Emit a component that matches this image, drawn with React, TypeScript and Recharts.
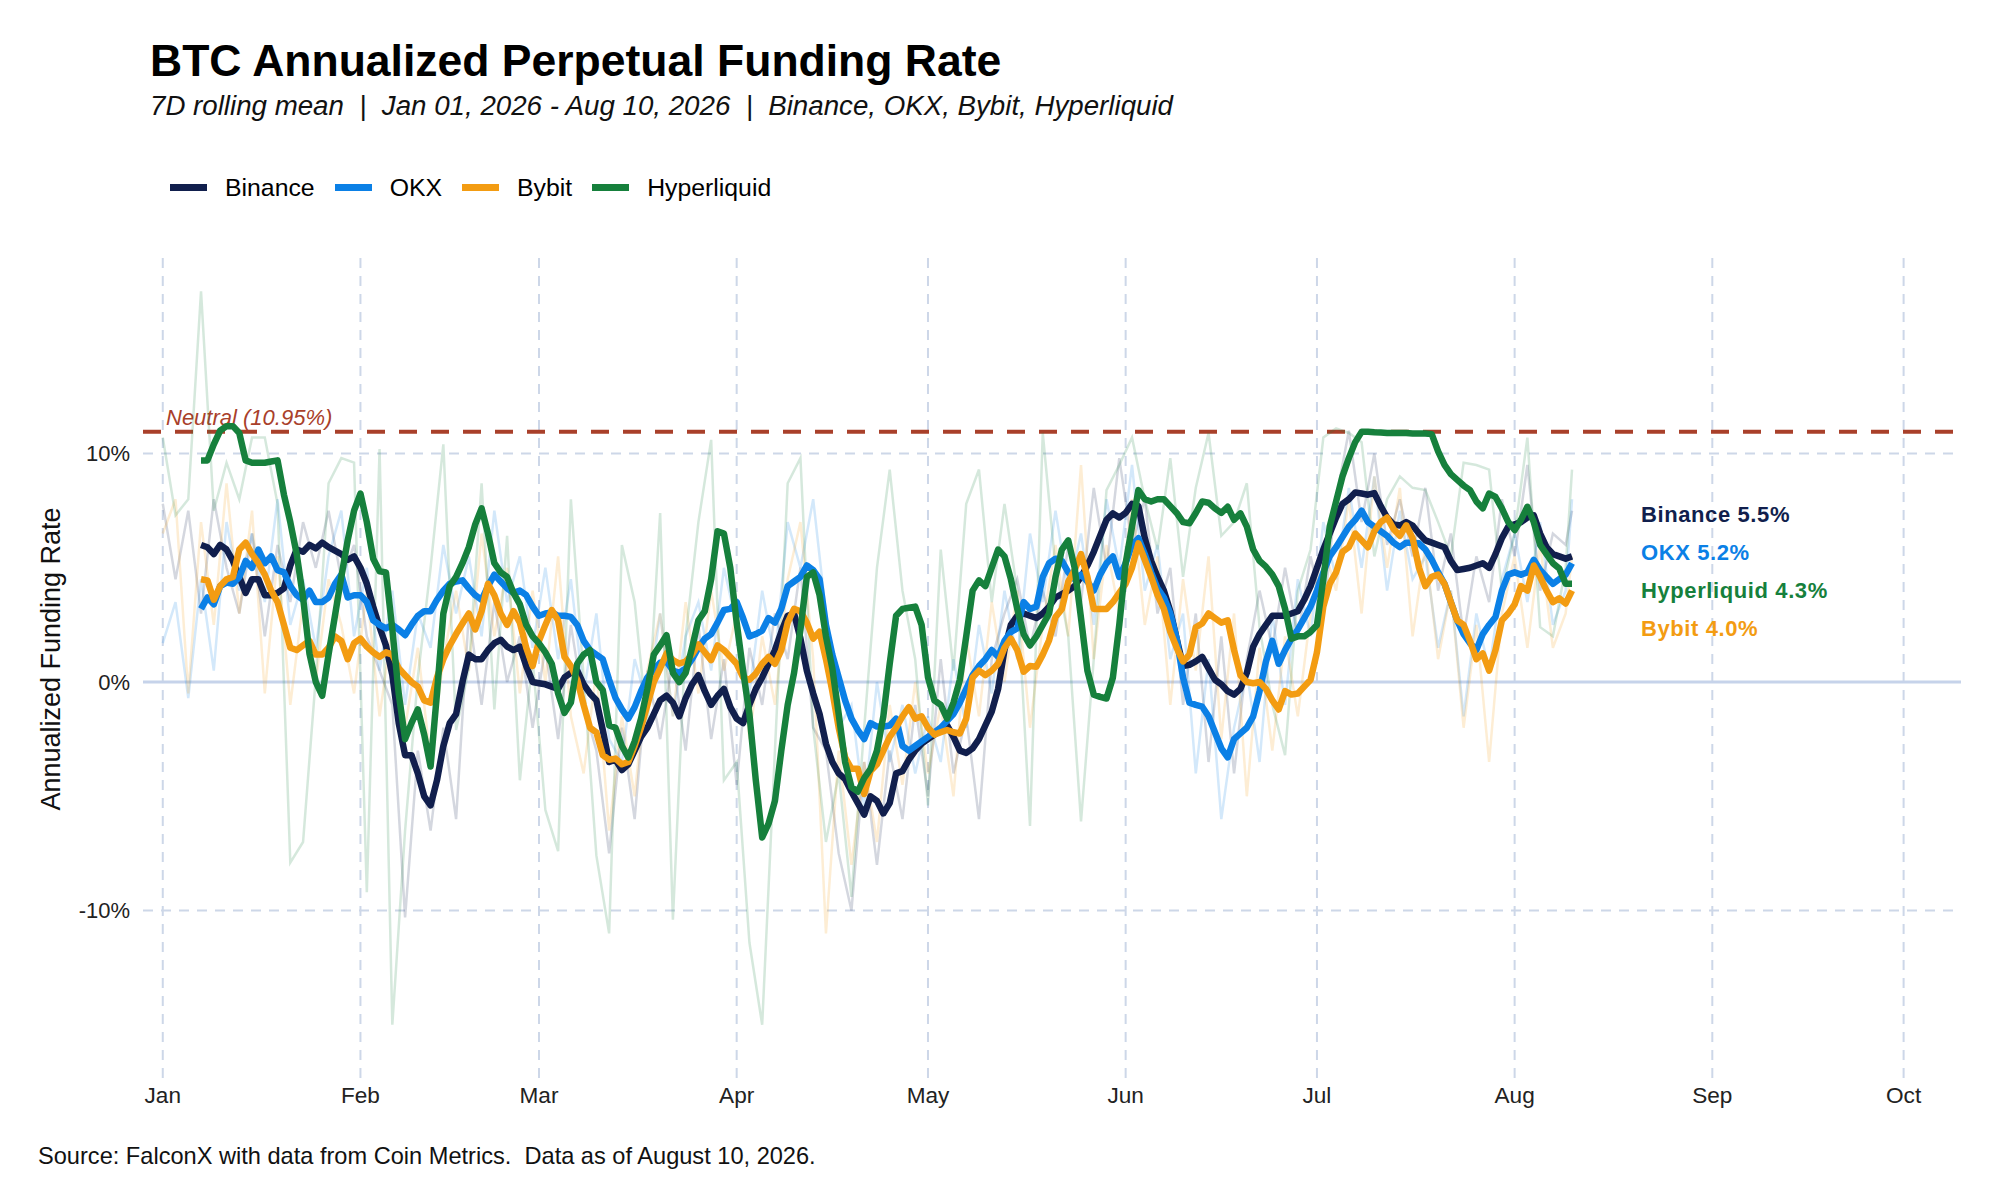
import { LineChart, Line, XAxis, YAxis, ReferenceLine } from 'recharts'

const FONT = '"Liberation Sans", Arial, Helvetica, sans-serif'

// day index 0 = Jan 01, 2026
const MONTH_TICKS = [0, 31, 59, 90, 120, 151, 181, 212, 243, 273]
const MONTH_LABELS = ['Jan', 'Feb', 'Mar', 'Apr', 'May', 'Jun', 'Jul', 'Aug', 'Sep', 'Oct']
const Y_TICKS = [-10, 0, 10]
const GRID_Y = [-10, 10]
const NEUTRAL = 10.95
const LAST_DAY = 221
const SMOOTH_START = 6

// raw daily values, sampled every other day (0, 2, ... 220) plus Aug 10
const RAW_DAYS = Array.from({ length: 111 }, (_, i) => i * 2).concat(LAST_DAY)

const BINANCE_RAW = [
  7.8, 4.5, 7.5, 3.0, 8.0, 5.0, 3.0, 6.5, 2.0, 6.0,
  3.5, 7.0, 5.0, 7.5, 4.5, 6.0, 2.0, 0.5, -1.0, -10.3,
  -3.0, -6.5, -2.0, -6.0, 3.0, -1.0, 3.5, 0.0, 2.0, -2.0,
  1.5, -2.5, 2.5, -1.0, -3.0, -7.5, -2.0, -6.0, 0.5, -2.5,
  1.0, -3.0, 2.5, -2.5, 1.0, -4.5, 1.5, -1.0, 3.0, 1.0,
  5.0, -2.0, -3.0, -7.5, -10.0, -3.5, -8.0, -3.0, -6.0, -1.0,
  -5.0, 1.0, -4.0, -1.5, -6.0, 1.0, 3.0, 4.5, 1.5, 4.0,
  2.0, 6.0, 3.5, 8.5, 5.0, 9.8, 6.0, 8.0, 3.0, 5.0,
  -1.0, 3.0, -3.5, 2.0, -4.0, 1.0, 4.0, 1.5, 5.0, 2.0,
  5.5, 3.0, 8.0, 11.0, 7.0, 10.0, 6.0, 8.0, 5.5, 8.5,
  4.0, 6.5, 2.0, 5.5, 3.5, 8.0, 5.5, 9.5, 4.0, 6.5,
  6.0, 7.5,
]
const OKX_RAW = [
  1.7, 3.5, -0.7, 4.5, 0.5, 7.0, 4.0, 6.5, 3.5, 8.0,
  2.5, 4.5, 1.5, 5.5, 7.5, 2.0, 5.0, 0.5, 4.0, -1.0,
  3.0, 1.5, 6.0, 3.0, 5.5, 2.0, 7.5, 3.5, 5.5, 1.5,
  5.0, 1.0, 4.5, -0.5, 3.0, -2.5, -3.5, 1.0, -1.0, 3.0,
  -1.5, 2.0, 3.5, 0.5, 5.0, 2.5, -0.5, 4.0, 1.0, 7.0,
  5.0, 8.0, 3.0, -2.0, -1.0, -5.5, 0.0, -3.5, -1.0, -4.0,
  -1.5, -3.5, 1.0, -2.0, 2.5, -0.5, 4.0, 1.0, 6.5, 3.5,
  7.5, 4.0, 6.5, 2.5, 8.0, 5.0, 9.5, 4.0, 6.0, 1.0,
  3.0, -4.0, 1.0, -6.0, -2.0, 0.5, -3.5, 3.0, -1.0, 4.5,
  2.0, 7.0, 4.5, 8.5, 5.0, 9.0, 4.0, 7.5, 4.5, 5.5,
  1.5, 4.0, -1.5, 3.0, 0.5, 4.5, 6.5, 3.5, 7.0, 2.5,
  4.0, 8.0,
]
const BYBIT_RAW = [
  6.5, 8.0, -0.5, 7.0, 2.5, 8.7, 3.0, 7.5, -0.5, 5.5,
  -1.0, 3.5, 0.0, 4.5, 2.5, -0.5, 4.0, -1.5, 2.5, -2.0,
  1.5, -3.5, 1.0, 4.0, 0.5, 6.5, 2.0, 5.0, -0.5, 4.0,
  0.0, 5.5, -1.5, -4.0, 0.5, -6.5, -1.5, -5.0, 0.5, 3.0,
  -1.5, 3.5, -0.5, 4.0, 0.5, 3.0, -2.5, 2.0, -1.0, 4.5,
  7.0, 1.0, -11.0, -3.0, -8.0, -3.5, -7.0, -1.0, -4.5, 0.0,
  -4.0, -1.0, -5.0, 2.0, -1.5, 3.5, 0.0, 4.0, -2.0, 2.5,
  6.0, 2.0, 9.5, 1.0, 6.0, 3.0, 8.0, 2.5, 5.5, -1.0,
  4.5, 0.5, 5.5, -2.5, 3.0, -5.0, 1.5, -3.0, 2.0, -1.5,
  3.0, 6.0, 4.0, 8.0, 3.0, 9.0, 5.0, 8.5, 2.0, 6.0,
  1.0, 4.0, -2.0, 2.5, -3.5, 3.0, 5.5, 1.5, 6.0, 1.5,
  3.0, 5.5,
]
const HYPER_RAW = [
  10.7, 7.3, 8.0, 17.1, 7.5, 9.6, 8.0, 10.7, 10.7, 7.8,
  -7.9, -7.0, 0.2, 8.7, 9.8, 9.6, -9.2, 10.2, -15.0, -6.5,
  0.2, 5.0, 10.4, -2.1, 0.6, 8.7, -1.2, 6.4, -4.3, 1.0,
  -5.6, -7.4, 8.0, 0.2, -7.6, -11.0, 6.0, 3.5, -2.0, 7.4,
  -10.4, 2.0, 7.0, 10.6, -4.3, -3.5, -11.4, -15.0, -3.0, 8.7,
  9.8, -2.0, -7.0, -4.0, -9.4, -2.0, 5.0, 9.3, 4.0, 1.0,
  -5.4, 5.8, 0.5, 7.8, 9.3, 3.5, 7.8, 4.0, -6.3, 10.9,
  5.0, 2.0, -6.1, 1.0, 8.4, 9.5, 10.7, 8.0, 5.8, 9.8,
  4.6, 8.5, 10.9, 6.4, 7.0, 8.7, 2.4, -1.0, -3.2, 4.0,
  5.8, 10.7, 11.1, 10.9, 10.5, 5.5, 8.0, 9.0, 8.5, 8.4,
  7.0, 5.5, 9.6, 9.5, 9.3, 4.0, 6.5, 10.7, 2.4, 2.0,
  5.0, 9.3,
]

// 7D rolling mean, daily from Jan 07 (day 6) to Aug 10 (day 221)
const BINANCE_7D = [
  6.0, 5.9, 5.6, 6.0, 5.8, 5.3, 4.6, 3.9, 4.5, 4.5,
  3.8, 3.8, 3.9, 4.1, 5.1, 5.8, 5.7, 6.0, 5.85, 6.1,
  5.9, 5.75, 5.6, 5.35, 5.5, 5.0, 4.3, 3.3, 2.4, 1.6,
  0.3, -1.8, -3.2, -3.2, -4.0, -5.0, -5.4, -4.3, -2.8, -1.8,
  -1.4, 0.0, 1.2, 1.0, 1.0, 1.4, 1.7, 1.85, 1.55, 1.4,
  1.55, 0.7, 0.0, -0.05, -0.1, -0.2, -0.3, 0.2, 0.4, 0.5,
  -0.1, -0.5, -0.8, -2.1, -3.5, -3.4, -3.85, -3.6, -3.0, -2.4,
  -2.0, -1.4, -0.8, -0.6, -0.9, -1.5, -0.7, -0.1, 0.3, -0.4,
  -1.0, -0.6, -0.3, -1.1, -1.6, -1.8, -1.0, -0.3, 0.2, 0.8,
  1.4, 2.2, 2.9, 3.0, 1.9, 0.5, -0.5, -1.4, -2.7, -3.5,
  -4.0, -4.25, -4.8, -5.3, -5.8, -5.0, -5.2, -5.75, -5.3, -4.0,
  -3.9, -3.4, -3.0, -2.7, -2.5, -2.3, -2.1, -1.9, -2.4, -3.0,
  -3.1, -2.9, -2.5, -1.9, -1.3, -0.3, 1.4, 2.5, 2.9, 3.0,
  2.9, 2.8, 3.0, 3.3, 3.7, 3.85, 4.0, 4.2, 4.6, 5.1,
  5.7, 6.4, 7.1, 7.38, 7.2, 7.4, 7.8, 7.7, 6.3, 5.3,
  4.6, 4.0, 3.1, 1.9, 0.7, 0.75, 0.9, 1.1, 0.6, 0.1,
  -0.1, -0.4, -0.55, -0.3, 0.4, 1.55, 2.1, 2.5, 2.9, 2.9,
  2.9, 3.0, 3.1, 3.6, 4.2, 5.0, 5.8, 6.5, 7.2, 7.8,
  8.0, 8.3, 8.25, 8.2, 8.27, 7.7, 7.2, 6.9, 6.85, 7.0,
  6.85, 6.5, 6.2, 6.1, 6.0, 5.9, 5.3, 4.9, 4.95, 5.0,
  5.1, 5.2, 5.0, 5.6, 6.3, 6.8, 6.9, 7.0, 7.2, 7.3,
  6.5, 5.9, 5.6, 5.5, 5.4, 5.5,
]
const OKX_7D = [
  3.2, 3.7, 3.4, 4.2, 4.35, 4.3, 4.6, 5.3, 5.0, 5.8,
  5.2, 5.5, 4.9, 4.8, 4.2, 3.8, 3.6, 4.0, 3.5, 3.5,
  3.7, 4.3, 4.7, 3.7, 3.8, 3.8, 3.5, 2.7, 2.5, 2.35,
  2.5, 2.3, 2.05, 2.5, 2.9, 3.1, 3.1, 3.6, 4.0, 4.3,
  4.4, 4.45, 4.1, 3.8, 3.6, 4.2, 4.7, 4.4, 4.1, 3.9,
  4.0, 3.8, 3.3, 2.9, 3.0, 3.05, 2.9, 2.9, 2.85, 2.5,
  1.8, 1.4, 1.2, 1.0, 0.1, -0.7, -1.2, -1.6, -1.1, -0.4,
  0.2, 0.55, 0.85, 0.9, 0.5, 0.4, 0.6, 1.0, 1.5, 1.9,
  2.1, 2.6, 3.15, 3.2, 3.5, 2.8, 2.0, 2.1, 2.25, 2.8,
  2.6, 3.2, 4.2, 4.4, 4.6, 5.1, 4.9, 4.5, 2.5, 1.2,
  0.2, -0.8, -1.6, -2.1, -2.5, -1.8, -1.95, -1.95, -1.9, -1.6,
  -2.8, -3.0, -2.8, -2.6, -2.4, -2.2, -2.0, -1.7, -1.4, -0.9,
  -0.3, 0.3, 0.7, 1.0, 1.4, 1.1, 1.8, 2.2, 2.35, 3.5,
  3.2, 3.3, 4.6, 5.2, 5.4, 5.3, 4.8, 4.5, 4.7, 4.4,
  4.0, 4.7, 5.2, 5.5, 4.6, 5.2, 6.0, 6.3, 5.6, 4.8,
  4.1, 3.7, 3.0, 1.9, 0.2, -0.9, -1.0, -1.08, -1.5, -2.2,
  -2.9, -3.3, -2.5, -2.25, -2.0, -1.5, -0.4, 0.9, 1.8, 0.8,
  1.4, 1.9, 2.3, 2.8, 3.3, 4.0, 4.8, 5.5, 5.9, 6.35,
  6.8, 7.1, 7.5, 7.0, 6.8, 6.6, 6.4, 6.1, 5.9, 6.1,
  6.1, 6.07, 5.8, 5.35, 4.8, 4.3, 3.5, 2.7, 2.1, 1.7,
  1.4, 2.1, 2.5, 2.85, 4.0, 4.7, 4.8, 4.7, 4.8, 5.35,
  4.9, 4.6, 4.3, 4.5, 4.7, 5.2,
]
const BYBIT_7D = [
  4.5, 4.45, 3.6, 4.2, 4.5, 4.6, 5.8, 6.1, 5.6, 5.2,
  4.7, 4.0, 3.5, 2.5, 1.5, 1.4, 1.6, 1.8, 1.2, 1.2,
  1.5, 2.0, 1.8, 1.0, 1.7, 1.9, 1.55, 1.3, 1.1, 1.3,
  1.2, 0.6, 0.3, 0.0, -0.2, -0.8, -0.9, 0.2, 1.0, 1.6,
  2.1, 2.56, 3.0, 2.3, 3.1, 4.3, 3.8, 3.0, 2.5, 3.1,
  2.6, 1.5, 0.7, 1.8, 2.5, 3.15, 2.7, 1.1, 0.7, 0.1,
  -1.0, -2.0, -2.2, -3.2, -3.4, -3.35, -3.6, -3.5, -2.8, -2.0,
  -1.0, 0.0, 0.6, 1.25, 0.96, 0.81, 0.9, 1.2, 1.65, 1.3,
  0.96, 1.6, 1.4, 1.1, 0.8, 0.2, 0.1, 0.37, 0.8, 1.1,
  0.8, 1.4, 2.6, 3.2, 3.1, 2.6, 1.9, 2.2, 1.0, -0.4,
  -2.0, -3.3, -3.8, -3.8, -4.9, -3.9, -3.6, -3.0, -2.4, -2.0,
  -1.5, -1.1, -1.6, -1.5, -2.0, -2.3, -2.2, -2.1, -2.2, -2.25,
  -1.6, 0.2, 0.5, 0.3, 0.5, 0.8, 1.5, 1.9, 1.4, 0.45,
  0.7, 0.67, 1.2, 1.83, 2.85, 3.2, 4.4, 4.9, 5.6, 4.6,
  3.2, 3.2, 3.2, 3.5, 3.9, 4.3, 5.0, 6.07, 5.35, 4.6,
  3.8, 3.2, 2.2, 1.5, 0.9, 1.2, 2.4, 2.56, 3.0, 2.8,
  2.6, 2.7, 1.4, 0.3, 0.0, -0.05, 0.0, -0.3, -0.8, -1.2,
  -0.4, -0.55, -0.5, -0.2, 0.1, 1.3, 3.3, 4.3, 4.8, 5.7,
  5.9, 6.5, 6.2, 5.9, 6.6, 7.0, 7.2, 6.7, 6.4, 6.86,
  6.3, 5.0, 4.2, 4.6, 4.7, 4.3, 3.5, 2.7, 2.5, 1.8,
  1.0, 1.25, 0.5, 1.4, 2.7, 3.0, 3.4, 4.2, 4.0, 5.1,
  4.6, 4.0, 3.5, 3.66, 3.44, 4.0,
]
const HYPER_7D = [
  9.7, 9.7, 10.4, 11.0, 11.2, 11.2, 10.9, 9.7, 9.6, 9.6,
  9.6, 9.65, 9.7, 8.2, 7.0, 5.6, 3.7, 1.25, 0.0, -0.6,
  1.2, 2.9, 4.6, 6.2, 7.5, 8.25, 7.0, 5.4, 4.85, 4.8,
  2.3, -0.5, -2.5, -1.8, -1.2, -2.3, -3.7, -0.5, 3.0, 4.2,
  4.6, 5.2, 5.9, 6.9, 7.6, 6.5, 5.2, 4.8, 4.6, 3.9,
  3.4, 2.5, 2.0, 1.69, 1.3, 0.8, -0.5, -1.35, -0.9, 0.8,
  1.2, 1.4, 0.0, -0.35, -1.9, -2.0, -2.8, -3.3, -2.6, -1.6,
  -0.3, 1.2, 1.6, 2.05, 0.4, 0.0, 0.4, 1.5, 2.7, 3.1,
  4.5, 6.6, 6.5, 5.0, 2.6, 0.5, -1.4, -4.3, -6.8, -6.2,
  -5.2, -3.0, -1.0, 0.4, 2.3, 4.6, 4.8, 3.8, 2.0, 0.6,
  -1.4, -3.5, -4.6, -4.8, -4.2, -3.8, -3.0, -1.5, 0.8, 2.9,
  3.2, 3.25, 3.3, 2.5, 0.2, -0.8, -1.0, -1.6, -0.9, 0.1,
  2.0, 4.0, 4.45, 4.2, 5.0, 5.8, 5.5, 4.5, 3.2, 2.1,
  1.6, 2.0, 2.5, 3.0, 4.6, 5.8, 6.2, 5.0, 2.8, 0.5,
  -0.55, -0.65, -0.72, 0.2, 2.5, 5.2, 6.8, 8.4, 8.0, 7.9,
  8.0, 8.0, 7.7, 7.4, 7.0, 6.95, 7.4, 7.9, 7.85, 7.6,
  7.4, 7.67, 7.1, 7.38, 6.8, 5.8, 5.3, 5.05, 4.7, 4.2,
  3.2, 1.9, 2.0, 2.0, 2.2, 2.5, 4.5, 6.8, 7.9, 9.0,
  9.8, 10.5, 10.95, 10.95, 10.93, 10.92, 10.9, 10.9, 10.9, 10.9,
  10.88, 10.88, 10.88, 10.85, 10.1, 9.5, 9.1, 8.85, 8.6, 8.4,
  7.9, 7.6, 8.25, 8.1, 7.6, 7.0, 6.65, 7.1, 7.67, 7.0,
  6.0, 5.6, 5.2, 4.97, 4.3, 4.3,
]

const SERIES = [
  { key: 'binance', name: 'Binance', color: '#111f4d', raw: BINANCE_RAW, smooth: BINANCE_7D },
  { key: 'okx', name: 'OKX', color: '#0b80e6', raw: OKX_RAW, smooth: OKX_7D },
  { key: 'bybit', name: 'Bybit', color: '#f39c12', raw: BYBIT_RAW, smooth: BYBIT_7D },
  { key: 'hyper', name: 'Hyperliquid', color: '#16803c', raw: HYPER_RAW, smooth: HYPER_7D },
]

const rows = Array.from({ length: LAST_DAY + 1 }, (_, day) => {
  const r: Record<string, number | null> = { day }
  const ri = RAW_DAYS.indexOf(day)
  SERIES.forEach((s) => {
    r[s.key] = day >= SMOOTH_START ? s.smooth[day - SMOOTH_START] : null
    r[s.key + 'Raw'] = ri >= 0 ? s.raw[ri] : null
  })
  return r
})

// end-of-series labels, ordered by latest value
const END_SLOTS = [523, 561, 599, 637]
const endLabels = SERIES.map((s) => ({ ...s, last: s.smooth[s.smooth.length - 1] }))
  .sort((a, b) => b.last - a.last)

const GRID = '#cdd7e8'
const tick = { fontSize: 22, fill: '#222', fontFamily: FONT }

function NeutralLabel(props: any) {
  const vb = props.viewBox || {}
  return (
    <text x={vb.x + 23} y={vb.y - 7} fill="#a9402a" fontSize={22} fontStyle="italic" fontFamily={FONT}>
      Neutral (10.95%)
    </text>
  )
}

export default function App() {
  return (
    <div style={{ position: 'absolute', left: 0, top: 0, width: 2000, height: 1200, background: '#fff', fontFamily: FONT, color: '#000' }}>
      <div style={{ position: 'absolute', left: 150, top: 38.5, fontSize: 44.5, lineHeight: 1, fontWeight: 700, whiteSpace: 'nowrap' }}>
        BTC Annualized Perpetual Funding Rate
      </div>
      <div style={{ position: 'absolute', left: 150, top: 91.5, fontSize: 27.7, lineHeight: 1, fontStyle: 'italic', whiteSpace: 'pre', color: '#111' }}>
        {'7D rolling mean  |  Jan 01, 2026 - Aug 10, 2026  |  Binance, OKX, Bybit, Hyperliquid'}
      </div>

      <div style={{ position: 'absolute', left: 170, top: 167, height: 42, display: 'flex', alignItems: 'center', fontSize: 24.8, lineHeight: 1 }}>
        {SERIES.map((s) => (
          <div key={s.key} style={{ display: 'flex', alignItems: 'center', marginRight: 20 }}>
            <div style={{ width: 37, height: 7, background: s.color, marginRight: 18 }} />
            <span>{s.name}</span>
          </div>
        ))}
      </div>

      <div style={{ position: 'absolute', left: 51, top: 659, width: 0, height: 0 }}>
        <div style={{ position: 'absolute', left: 0, top: 0, transform: 'translate(-50%, -50%) rotate(-90deg)', fontSize: 27, lineHeight: 1, whiteSpace: 'nowrap', color: '#111' }}>
          Annualized Funding Rate
        </div>
      </div>

      <div style={{ position: 'absolute', left: 0, top: 0 }}>
        <LineChart width={2000} height={1200} data={rows} margin={{ top: 255, right: 39, bottom: 0, left: 0 }}>
          <XAxis
            dataKey="day"
            type="number"
            domain={[-3.1, 282]}
            allowDataOverflow
            ticks={MONTH_TICKS}
            interval={0}
            tickFormatter={(v: number) => MONTH_LABELS[MONTH_TICKS.indexOf(v)]}
            axisLine={false}
            tickLine={false}
            tickSize={0}
            tickMargin={9}
            height={122}
            tick={{ ...tick, fontSize: 22.6 }}
          />
          <YAxis
            type="number"
            domain={[-17.33, 18.69]}
            allowDataOverflow
            ticks={Y_TICKS}
            tickFormatter={(v: number) => `${v}%`}
            axisLine={false}
            tickLine={false}
            tickSize={0}
            tickMargin={13}
            width={143}
            tick={tick}
          />
          {MONTH_TICKS.map((m) => (
            <ReferenceLine key={'vx' + m} x={m} stroke={GRID} strokeWidth={2} strokeDasharray="10 8" />
          ))}
          {GRID_Y.map((g) => (
            <ReferenceLine key={'gy' + g} y={g} stroke={GRID} strokeWidth={2} strokeDasharray="10 8" />
          ))}
          <ReferenceLine y={0} stroke="#c6d3ea" strokeWidth={3} />
          <ReferenceLine y={NEUTRAL} stroke="#a9402a" strokeWidth={4} strokeDasharray="18 14" label={<NeutralLabel />} />

          {SERIES.map((s) => (
            <Line
              key={s.key + 'Raw'}
              dataKey={s.key + 'Raw'}
              stroke={s.color}
              strokeOpacity={0.18}
              strokeWidth={2.5}
              dot={false}
              activeDot={false}
              connectNulls
              type="linear"
              isAnimationActive={false}
            />
          ))}
          {SERIES.map((s) => (
            <Line
              key={s.key}
              dataKey={s.key}
              stroke={s.color}
              strokeWidth={6.5}
              strokeLinejoin="round"
              dot={false}
              activeDot={false}
              type="linear"
              isAnimationActive={false}
            />
          ))}
        </LineChart>
      </div>

      {endLabels.map((s, i) => (
        <div
          key={s.key}
          style={{ position: 'absolute', left: 1641, top: END_SLOTS[i] - 18.6, fontSize: 22, lineHeight: 1, fontWeight: 700, letterSpacing: 0.6, color: s.color, whiteSpace: 'nowrap' }}
        >
          {`${s.name} ${s.last.toFixed(1)}%`}
        </div>
      ))}

      <div style={{ position: 'absolute', left: 38, top: 1145, fontSize: 23.6, lineHeight: 1, whiteSpace: 'pre', color: '#111' }}>
        {'Source: FalconX with data from Coin Metrics.  Data as of August 10, 2026.'}
      </div>
    </div>
  )
}
